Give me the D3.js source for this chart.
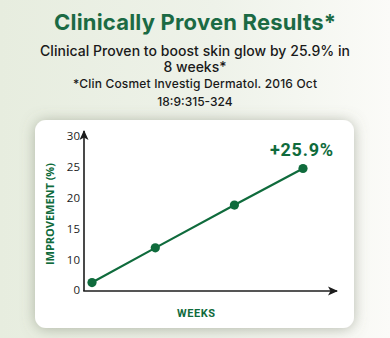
<!DOCTYPE html>
<html>
<head>
<meta charset="utf-8">
<script src="https://cdn.jsdelivr.net/npm/d3@7"></script>
<style>
  html, body { margin: 0; padding: 0; }
  body { width: 390px; height: 338px; overflow: hidden; }
</style>
</head>
<body>
<div id="chart"></div>
<script>
(function() {
    var width = 390;
    var height = 338;

    // data
    var weeks = [0, 2.4, 5.4, 8];
    var improvement = [6.2, 11.8, 18.7, 24.6];
    var yTicks = [5, 10, 15, 20, 25, 30];
    var yTickLabels = ["0", "10", "15", "20", "25", "30"];
    var finalLabel = "+25.9%";

    var titleText = "Clinically Proven Results*";
    var subLines = ["Clinical Proven to boost skin glow by 25.9% in", "8 weeks*"];
    var refLines = ["*Clin Cosmet Investig Dermatol. 2016 Oct", "18:9:315-324"];

    var green = "#0f6b3c";
    var dark = "#1c1c1c";

    var svg = d3.select("#chart").append("svg")
        .attr("width", width)
        .attr("height", height);

    var defs = svg.append("defs");
    var bg = defs.append("linearGradient").attr("id", "bg")
        .attr("x1", 0).attr("y1", 0).attr("x2", 1).attr("y2", 0);
    bg.append("stop").attr("offset", "0%").attr("stop-color", "#e7eddf");
    bg.append("stop").attr("offset", "55%").attr("stop-color", "#eef2e9");
    bg.append("stop").attr("offset", "100%").attr("stop-color", "#fbfbf8");

    var shadow = defs.append("filter").attr("id", "shadow")
        .attr("x", "-20%").attr("y", "-20%").attr("width", "140%").attr("height", "140%");
    shadow.append("feDropShadow")
        .attr("dx", 0).attr("dy", 1).attr("stdDeviation", 7)
        .attr("flood-color", "#737a66").attr("flood-opacity", 0.5);

    defs.append("marker").attr("id", "arrow")
        .attr("viewBox", "0 0 10 10")
        .attr("refX", 9).attr("refY", 5)
        .attr("markerWidth", 10).attr("markerHeight", 10)
        .attr("markerUnits", "userSpaceOnUse")
        .attr("orient", "auto")
        .append("path")
        .attr("d", "M0,0.5 L10,5 L0,9.5 L2.5,5 Z")
        .attr("fill", dark);

    svg.append("rect")
        .attr("width", width).attr("height", height)
        .attr("fill", "url(#bg)");

    // header texts
    svg.append("text")
        .attr("x", 195).attr("y", 30)
        .attr("text-anchor", "middle")
        .attr("textLength", 282)
        .style("font-family", "Inter, 'Open Sans', sans-serif")
        .style("font-weight", 700)
        .style("font-size", "22px")
        .style("fill", "#1b6a44")
        .text(titleText);

    svg.selectAll(".sub")
        .data(subLines)
        .enter().append("text")
        .attr("class", "sub")
        .attr("x", 195)
        .attr("y", function(d, i) { return 56 + i * 16; })
        .attr("text-anchor", "middle")
        .attr("textLength", function(d, i) { return i === 0 ? 310 : null; })
        .style("font-family", "Inter, 'Open Sans', sans-serif")
        .style("font-weight", 500)
        .style("font-size", "14px")
        .style("fill", "#1a1a1a")
        .text(function(d) { return d; });

    svg.selectAll(".ref")
        .data(refLines)
        .enter().append("text")
        .attr("class", "ref")
        .attr("x", 195)
        .attr("y", function(d, i) { return 88 + i * 18; })
        .attr("text-anchor", "middle")
        .attr("textLength", function(d, i) { return i === 0 ? 244 : null; })
        .style("font-family", "Inter, 'Open Sans', sans-serif")
        .style("font-weight", 500)
        .style("font-size", "12px")
        .style("fill", "#1a1a1a")
        .text(function(d) { return d; });

    // card
    svg.append("rect")
        .attr("x", 35).attr("y", 120)
        .attr("width", 319).attr("height", 208)
        .attr("rx", 11)
        .attr("fill", "#ffffff")
        .attr("filter", "url(#shadow)");

    var x = d3.scaleLinear().domain([0, 8]).range([92, 303]);
    var y = d3.scaleLinear().domain([10, 30]).range([259, 135]);

    var axisX0 = 84;
    var axisY0 = 291;

    // y axis
    svg.append("line")
        .attr("x1", axisX0).attr("y1", axisY0)
        .attr("x2", axisX0).attr("y2", 131)
        .attr("stroke", dark).attr("stroke-width", 1.6)
        .attr("marker-end", "url(#arrow)");

    // x axis
    svg.append("line")
        .attr("x1", axisX0 - 0.8).attr("y1", axisY0)
        .attr("x2", 337).attr("y2", axisY0)
        .attr("stroke", dark).attr("stroke-width", 1.6)
        .attr("marker-end", "url(#arrow)");

    var yAxis = d3.axisLeft(y)
        .tickValues(yTicks)
        .tickSize(0)
        .tickPadding(0)
        .tickFormat(function(d, i) { return yTickLabels[i]; });

    var yg = svg.append("g")
        .attr("transform", "translate(" + 80 + ",0)")
        .call(yAxis);
    yg.select(".domain").remove();
    yg.selectAll("text")
        .attr("dy", "0.35em")
        .attr("transform", function(d) { return d === 5 ? "translate(0,-1)" : null; })
        .style("font-family", "'Open Sans', sans-serif")
        .style("font-size", "11.5px")
        .style("fill", dark);

    // axis titles
    svg.append("text")
        .attr("transform", "translate(54,214) rotate(-90)")
        .attr("text-anchor", "middle")
        .attr("textLength", 102)
        .style("font-family", "'Liberation Sans Narrow', 'Open Sans', sans-serif")
        .style("font-weight", 700)
        .style("font-size", "11px")
        .style("fill", green)
        .text("IMPROVEMENT (%)");

    svg.append("text")
        .attr("x", 196).attr("y", 317)
        .attr("text-anchor", "middle")
        .attr("textLength", 38)
        .style("font-family", "Roboto, sans-serif")
        .style("font-weight", 700)
        .style("font-size", "11px")
        .style("fill", green)
        .text("WEEKS");

    // line and dots
    var pts = weeks.map(function(w, i) { return [w, improvement[i]]; });

    var line = d3.line()
        .x(function(d) { return x(d[0]); })
        .y(function(d) { return y(d[1]); });

    svg.append("path")
        .datum(pts)
        .attr("d", line)
        .attr("fill", "none")
        .attr("stroke", green)
        .attr("stroke-width", 2.2);

    svg.selectAll(".dot")
        .data(pts)
        .enter().append("circle")
        .attr("class", "dot")
        .attr("cx", function(d) { return x(d[0]); })
        .attr("cy", function(d) { return y(d[1]); })
        .attr("r", 4.6)
        .attr("fill", green);

    var last = pts[pts.length - 1];
    svg.append("text")
        .attr("x", x(last[0]) + 30)
        .attr("y", y(last[1]) - 12)
        .attr("text-anchor", "end")
        .attr("textLength", 63)
        .style("font-family", "Roboto, sans-serif")
        .style("font-weight", 700)
        .style("font-size", "18px")
        .style("fill", green)
        .text(finalLabel);
})();
</script>
</body>
</html>
